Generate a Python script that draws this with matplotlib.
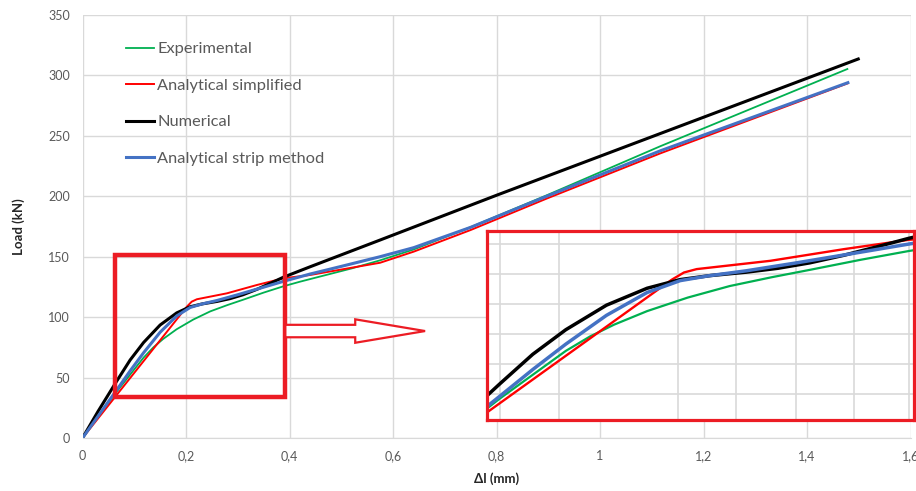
import numpy as np
import matplotlib
matplotlib.use("Agg")
import matplotlib.pyplot as plt
from matplotlib.patches import Rectangle, FancyArrow
from matplotlib.ticker import FuncFormatter

plt.rcParams["font.family"] = ["Lato", "DejaVu Sans"]

# load - displacement curves (dl in mm, load in kN)
exp_x = [0, 0.066, 0.118, 0.137, 0.156, 0.182, 0.214, 0.247, 0.28, 0.311, 0.35,
         0.388, 0.42, 0.459, 0.52, 0.575, 0.64, 0.75, 0.898, 1.117, 1.478]
exp_y = [0, 38.3, 66.5, 75.0, 82.0, 90.0, 98.0, 104.8, 110.0, 114.5, 120.3,
         125.5, 129.3, 133.6, 140.3, 147.0, 156.0, 174.5, 201.0, 241.5, 305.3]

simp_x = [0, 0.2015, 0.211, 0.221, 0.279, 0.337, 0.388, 0.44, 0.575, 0.64, 0.75,
          0.898, 1.117, 1.479]
simp_y = [0, 108.6, 112.8, 114.8, 119.7, 126.6, 132.1, 134.9, 145.0, 154.2, 172.1,
          198.3, 235.6, 293.5]

num_x = [0, 0.03, 0.066, 0.092, 0.118, 0.150, 0.182, 0.208, 0.232, 0.26, 0.285,
         0.31, 0.337, 0.363, 0.388, 0.44, 0.575, 0.801, 1.117, 1.499]
num_y = [0, 22, 47, 64.5, 79, 93.5, 103.5, 108.6, 111.0, 113.0, 115.3,
         118.5, 123, 128, 133, 141.7, 163.8, 201, 252, 313.6]

strip_x = [0, 0.066, 0.092, 0.118, 0.150, 0.182, 0.208, 0.23, 0.26, 0.298, 0.350,
           0.388, 0.44, 0.5, 0.575, 0.64, 0.75, 0.898, 1.117, 1.479]
strip_y = [0, 39.7, 55.5, 70.5, 87.5, 101.0, 108.0, 110.8, 113.8, 118.3, 124.8,
           129.6, 135.7, 142.0, 150.0, 157.5, 174.3, 200.2, 237.7, 294]

series = [
    ("Experimental", exp_x, exp_y, "#00B050", 1.3),
    ("Analytical simplified", simp_x, simp_y, "#FF0000", 1.4),
    ("Numerical", num_x, num_y, "#000000", 2.2),
    ("Analytical strip method", strip_x, strip_y, "#4472C4", 2.2),
]

x_ticks = [0, 0.2, 0.4, 0.6, 0.8, 1.0, 1.2, 1.4, 1.6]
y_ticks = [0, 50, 100, 150, 200, 250, 300, 350]

# zoomed window and its enlarged view
zoom_x = (0.063, 0.392)
zoom_y = (34.2, 151.4)
inset_xlim = (0.056, 0.392)
inset_ylim = (26.0, 137.3)
inset_xgrid = [0.066, 0.113, 0.206, 0.252, 0.299, 0.345, 0.388]
inset_ygrid = [41.0, 58.7, 76.4, 94.1, 111.8, 129.5]

red = "#EC1C24"
grid_c = "#D9D9D9"
txt_c = "#595959"


def comma(v, pos):
    s = "%g" % v
    return s.replace(".", ",")


fig = plt.figure(figsize=(9.16, 4.91), dpi=100)
ax = fig.add_axes([82.5 / 916, 53 / 491, 828 / 916, 423 / 491])

for name, xs, ys, c, lw in series:
    ax.plot(xs, ys, color=c, lw=lw, label=name)

ax.set_xlim(0, 1.6)
ax.set_ylim(0, 350)
ax.set_xticks(x_ticks)
ax.set_yticks(y_ticks)
ax.xaxis.set_major_formatter(FuncFormatter(comma))
ax.grid(True, color=grid_c, lw=1)
ax.set_axisbelow(True)
for s in ["top", "right", "left"]:
    ax.spines[s].set_visible(False)
ax.spines["bottom"].set_color(grid_c)
ax.tick_params(length=0, labelsize=9, colors=txt_c, pad=9)

ax.set_xlabel("Δl (mm)", fontsize=9.5, fontweight="bold", color="#262626", labelpad=7)
ax.set_ylabel("Load (kN)", fontsize=9.5, fontweight="bold", color="#262626", labelpad=17)

leg = ax.legend(loc="upper left", bbox_to_anchor=(126 / 916, 1 - 42 / 491),
                bbox_transform=fig.transFigure, frameon=False, fontsize=11.8,
                handlelength=1.7, handletextpad=0.2, labelspacing=1.34,
                borderpad=0, borderaxespad=0)
for t in leg.get_texts():
    t.set_color(txt_c)

# zoom window + arrow pointing to the enlarged view
ax.add_patch(Rectangle((zoom_x[0], zoom_y[0]), zoom_x[1] - zoom_x[0],
                       zoom_y[1] - zoom_y[0], fill=False, ec=red, lw=3.2, zorder=5))
ax.add_patch(FancyArrow(zoom_x[1], 88.5, 0.27, 0, width=10.3, head_width=19.4,
                        head_length=0.135, length_includes_head=True,
                        fc="white", ec=red, lw=1.6, zorder=5))

ins = fig.add_axes([487 / 916, 71.5 / 491, 427 / 916, 188.5 / 491])
for name, xs, ys, c, lw in series:
    ins.plot(xs, ys, color=c, lw=lw + 0.3)
ins.set_xlim(*inset_xlim)
ins.set_ylim(*inset_ylim)
ins.set_xticks(inset_xgrid)
ins.set_yticks(inset_ygrid)
ins.tick_params(length=0, labelbottom=False, labelleft=False)
ins.grid(True, color=grid_c, lw=1.2)
ins.set_axisbelow(True)
for s in ins.spines.values():
    s.set_color(red)
    s.set_linewidth(2.3)

fig.savefig("out.png", dpi=100)
